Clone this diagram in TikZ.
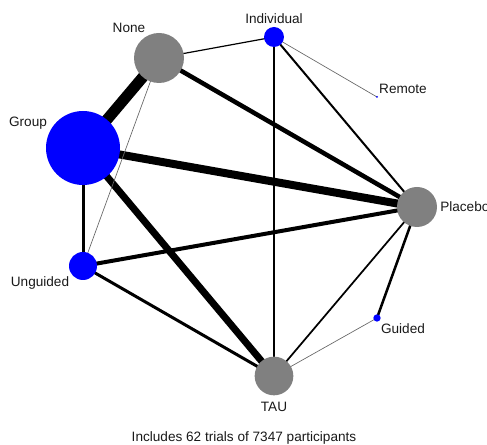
\documentclass[tikz,border=0pt]{standalone}
\usepackage{fontspec}
\setmainfont{Liberation Sans}
\usetikzlibrary{backgrounds}

\definecolor{trtgray}{RGB}{128,128,128}
\definecolor{trtblue}{RGB}{0,0,255}

\tikzset{
  trt/.style={circle, draw opacity=0, inner sep=0pt},
  grayt/.style={trt, fill=trtgray},
  bluet/.style={trt, fill=trtblue},
  lbl/.style={inner sep=0.75pt, font=\fontsize{10.2}{12}\selectfont, text=black!90},
  cmp/.style={draw=black, line cap=butt}
}

\begin{document}
\begin{tikzpicture}[x=0.75pt,y=0.75pt,yscale=-1,xscale=1]
\useasboundingbox (0,0) rectangle (487,445);

%Shape: Circle [treatments]
\node [grayt, minimum size=37.5pt] (none) at (159,58) {};
\node [bluet, minimum size=15pt] (indiv) at (274,37) {};
\node [bluet, minimum size=1.5pt] (remote) at (377,97) {};
\node [bluet, minimum size=55.5pt] (group) at (83,148) {};
\node [grayt, minimum size=30pt] (placebo) at (417,207) {};
\node [bluet, minimum size=21pt] (unguided) at (83,266) {};
\node [bluet, minimum size=5.5pt] (guided) at (377,318) {};
\node [grayt, minimum size=29pt] (tau) at (274,376) {};

%Straight Lines [comparisons]
\begin{scope}[on background layer]
\draw [cmp, line width=8.25pt] (group.center) -- (none.center) ;
\draw [cmp, line width=6pt] (group.center) -- (placebo.center) ;
\draw [cmp, line width=5.25pt] (group.center) -- (tau.center) ;
\draw [cmp, line width=2.25pt] (group.center) -- (unguided.center) ;
\draw [cmp, line width=3.4pt] (none.center) -- (placebo.center) ;
\draw [cmp, line width=0.9pt] (none.center) -- (indiv.center) ;
\draw [cmp, draw=black!60, line width=0.5pt] (none.center) -- (unguided.center) ;
\draw [cmp, draw=black!60, line width=0.5pt] (indiv.center) -- (remote.center) ;
\draw [cmp, line width=1.9pt] (indiv.center) -- (tau.center) ;
\draw [cmp, line width=1.5pt] (indiv.center) -- (placebo.center) ;
\draw [cmp, line width=3pt] (unguided.center) -- (placebo.center) ;
\draw [cmp, line width=2.25pt] (unguided.center) -- (tau.center) ;
\draw [cmp, line width=1.3pt] (placebo.center) -- (tau.center) ;
\draw [cmp, line width=1.9pt] (placebo.center) -- (guided.center) ;
\draw [cmp, draw=black!60, line width=0.5pt] (guided.center) -- (tau.center) ;
\end{scope}

% Text Node
\node [lbl] (lnone) at (129,28) {None};
\node [lbl] (lindiv) at (274,19) {Individual};
\node [lbl] (lremote) at (403,89) {Remote};
\node [lbl] (lgroup) at (28,123) {Group};
\node [lbl, anchor=west] (lplacebo) at (439,207) {Placebo};
\node [lbl] (lunguided) at (40,283) {Unguided};
\node [lbl] (lguided) at (403,329) {Guided};
\node [lbl] (ltau) at (274,407) {TAU};
\node [lbl] (caption) at (244,438) {Includes 62 trials of 7347 participants};

\end{tikzpicture}
\end{document}
